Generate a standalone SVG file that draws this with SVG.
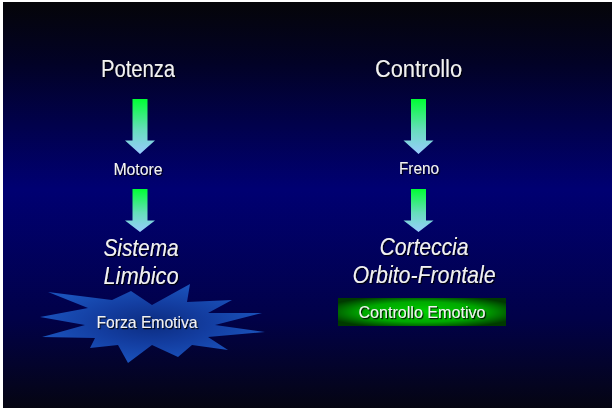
<svg xmlns="http://www.w3.org/2000/svg" width="614" height="410" viewBox="0 0 614 410">
<defs>
<linearGradient id="bg" x1="0" y1="0" x2="0" y2="1">
<stop offset="0" stop-color="#050508"/>
<stop offset="0.15" stop-color="#020226"/>
<stop offset="0.46" stop-color="#000072"/>
<stop offset="0.78" stop-color="#010148"/>
<stop offset="1" stop-color="#050512"/>
</linearGradient>
<linearGradient id="arrowGrad" x1="0" y1="0" x2="0" y2="1">
<stop offset="0" stop-color="#00ff33"/>
<stop offset="0.55" stop-color="#66ddbb"/>
<stop offset="1" stop-color="#99ccff"/>
</linearGradient>
<radialGradient id="starGrad" cx="0.5" cy="0.5" r="0.5">
<stop offset="0" stop-color="#0c2c80"/>
<stop offset="0.5" stop-color="#133da0"/>
<stop offset="1" stop-color="#1a52bb"/>
</radialGradient>
<radialGradient id="boxGrad" cx="0.5" cy="0.5" r="0.6">
<stop offset="0" stop-color="#00d000"/>
<stop offset="0.6" stop-color="#00a800"/>
<stop offset="1" stop-color="#003a00"/>
</radialGradient>
<filter id="shadow" x="-10%" y="-20%" width="120%" height="150%">
<feDropShadow dx="1.2" dy="1.2" stdDeviation="0.4" flood-color="#000000" flood-opacity="0.9"/>
</filter>
<path id="arrow" d="M-7.5,0 H7.5 V41.5 H15 L0,55 L-15,41.5 H-7.5 Z"/>
<path id="arrowShort" d="M-7.5,0 H7.5 V31.5 H15 L0,43 L-15,31.5 H-7.5 Z"/>
</defs>
<style>
.t{font-family:"Liberation Sans",Arial,sans-serif;fill:#f2f2f2;text-anchor:middle;filter:url(#shadow)}
.h{font-size:23px}
.s{font-size:17px}
.i{font-size:24px;font-style:italic}
.arr{fill:url(#arrowGrad)}
</style>
<rect x="0" y="0" width="614" height="410" fill="#ffffff"/>
<rect x="3" y="2" width="609" height="406" fill="url(#bg)"/>

<g id="connectors">
<use href="#arrow" x="140" y="99" class="arr"/>
<use href="#arrowShort" x="140" y="189" class="arr"/>
<use href="#arrow" x="418.5" y="99" class="arr"/>
<use href="#arrowShort" x="418.5" y="189" class="arr"/>
</g>

<g id="potenza"><text class="t h" x="138" y="77" textLength="74" lengthAdjust="spacingAndGlyphs">Potenza</text></g>
<g id="controllo"><text class="t h" x="418.5" y="77" textLength="87" lengthAdjust="spacingAndGlyphs">Controllo</text></g>
<g id="motore"><text class="t s" x="138" y="175" textLength="49" lengthAdjust="spacingAndGlyphs">Motore</text></g>
<g id="freno"><text class="t s" x="419" y="174" textLength="40" lengthAdjust="spacingAndGlyphs">Freno</text></g>
<g id="sistema-limbico">
<text class="t i" x="141" y="256" textLength="75" lengthAdjust="spacingAndGlyphs">Sistema</text>
<text class="t i" x="141" y="284" textLength="75" lengthAdjust="spacingAndGlyphs">Limbico</text>
</g>
<g id="corteccia">
<text class="t i" x="424" y="255" textLength="89" lengthAdjust="spacingAndGlyphs">Corteccia</text>
<text class="t i" x="424" y="283" textLength="143" lengthAdjust="spacingAndGlyphs">Orbito-Frontale</text>
</g>
<g id="forza-emotiva">
<polygon fill="url(#starGrad)" points="48,292 112,300 131,291 152,305 190,284 187,302 232,300 208,313 262,313 215,325 265,332 208,337 228,350 192,345 178,357 152,345 128,363 118,345 90,348 95,338 42,337 85,325 40,317 88,308"/>
<text class="t s" x="147" y="328" textLength="101" lengthAdjust="spacingAndGlyphs">Forza Emotiva</text>
</g>
<g id="controllo-emotivo">
<rect x="338" y="298" width="168" height="28" fill="url(#boxGrad)"/>
<text class="t s" x="422" y="318" textLength="127" lengthAdjust="spacingAndGlyphs">Controllo Emotivo</text>
</g>
</svg>
